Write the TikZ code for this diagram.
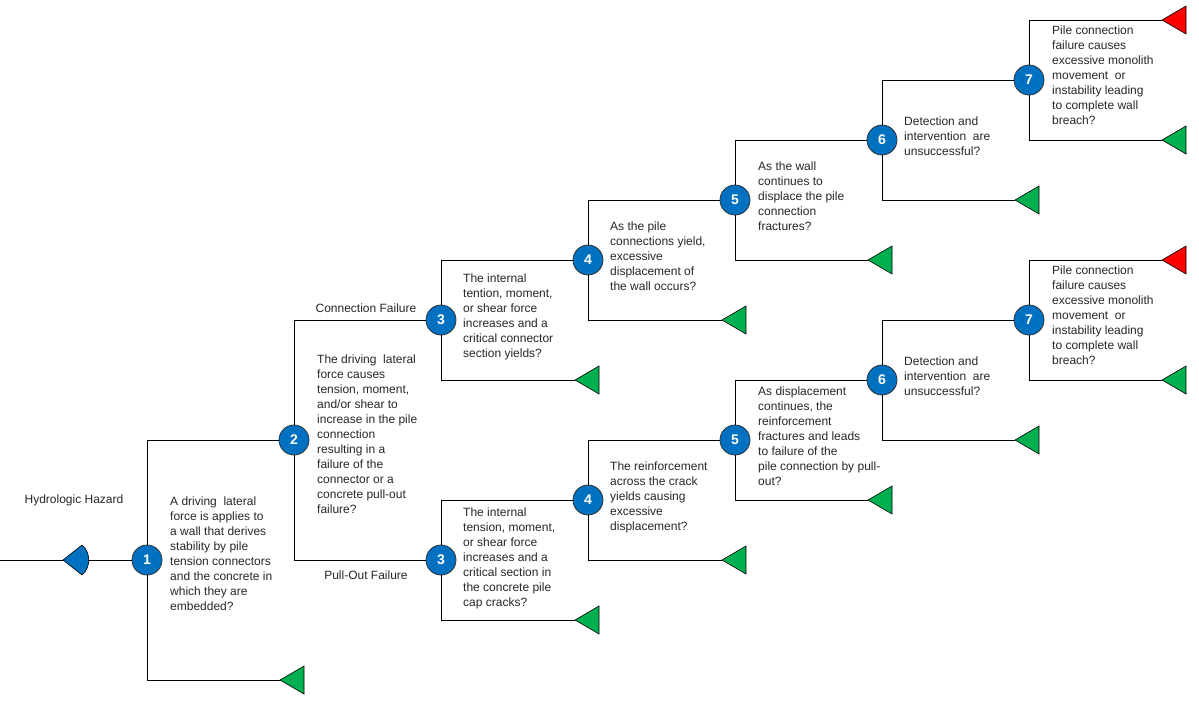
\documentclass[tikz,border=0pt]{standalone}
\usepackage{fontspec}
\setmainfont{Liberation Sans}
\definecolor{cblue}{HTML}{0070C0}
\definecolor{cgreen}{HTML}{00B050}
\definecolor{cred}{HTML}{FF0000}
\begin{document}
\begin{tikzpicture}[x=1pt,y=-1pt,
  ev/.style={circle,fill=cblue,draw=black!80,line width=0.8pt,minimum size=30pt,inner sep=0pt,text=white,font=\fontsize{14}{14}\selectfont\bfseries},
  txt/.style={anchor=north west,align=left,inner sep=0pt,font=\fontsize{12}{15}\selectfont,text=black!85},
  br/.style={line width=0.9pt},
  lab/.style={font=\fontsize{12}{15}\selectfont,text=black!85}]
\useasboundingbox (0,0) rectangle (1199,702);
\newcommand{\tri}[3]{\draw[fill=#3,line width=0.6pt] (#1,#2) -- (#1+24,#2-14) -- (#1+24,#2+14) -- cycle;}
% initiator
\coordinate (start) at (0,560);
\node[ev] (n1) at (147,560) {1};
\draw[br] (start) -- (n1);
\draw[fill=cblue,line width=0.6pt] (63,560) -- (82,545) .. controls (91,552) and (91,568) .. (82,575) -- cycle;
\node[lab] (hz) at (74,500) {Hydrologic Hazard};
\node[txt] at (170,497) {A driving\ \ lateral\\force is applies to\\a wall that derives\\stability by pile\\tension connectors\\and the concrete in\\which they are\\embedded?};
% node 2
\node[ev] (n2) at (294,440) {2};
\coordinate (e1) at (280,680);
\draw[br] (n1) |- (n2);
\draw[br] (n1) |- (e1);
\tri{280}{680}{cgreen}
\node[txt] at (317,355) {The driving\ \ lateral\\force causes\\tension, moment,\\and/or shear to\\increase in the pile\\connection\\resulting in a\\failure of the\\connector or a\\concrete pull-out\\failure?};
% node 3 pair
\node[ev] (n3a) at (441,320) {3};
\node[ev] (n3b) at (441,560) {3};
\draw[br] (n2) |- (n3a);
\draw[br] (n2) |- (n3b);
\node[lab] at (366,308) {Connection Failure};
\node[lab] at (366,575) {Pull-Out Failure};
% upper chain
\node[ev] (n4a) at (588,260) {4};
\node[ev] (n5a) at (735,200) {5};
\node[ev] (n6a) at (882,140) {6};
\node[ev] (n7a) at (1029,80) {7};
\coordinate (e3a) at (575,380);
\coordinate (e4a) at (722,320);
\coordinate (e5a) at (868,260);
\coordinate (e6a) at (1015,200);
\coordinate (e7at) at (1162,20);
\coordinate (e7ab) at (1162,140);
\draw[br] (n3a) |- (n4a); \draw[br] (n3a) |- (e3a); \tri{575}{380}{cgreen}
\draw[br] (n4a) |- (n5a); \draw[br] (n4a) |- (e4a); \tri{722}{320}{cgreen}
\draw[br] (n5a) |- (n6a); \draw[br] (n5a) |- (e5a); \tri{868}{260}{cgreen}
\draw[br] (n6a) |- (n7a); \draw[br] (n6a) |- (e6a); \tri{1015}{200}{cgreen}
\draw[br] (n7a) |- (e7at); \draw[br] (n7a) |- (e7ab); \tri{1162}{20}{cred}\tri{1162}{140}{cgreen}
\node[txt] at (463,274) {The internal\\tention, moment,\\or shear force\\increases and a\\critical connector\\section yields?};
\node[txt] at (610,222) {As the pile\\connections yield,\\excessive\\displacement of\\the wall occurs?};
\node[txt] at (758,162) {As the wall\\continues to\\displace the pile\\connection\\fractures?};
\node[txt] at (904,117) {Detection and\\intervention\ \ are\\unsuccessful?};
\node[txt] at (1052,26) {Pile connection\\failure\ causes\\excessive\ monolith\\movement\ \ or\\instability leading\\to complete wall\\breach?};
% lower chain
\node[ev] (n4b) at (588,500) {4};
\node[ev] (n5b) at (735,440) {5};
\node[ev] (n6b) at (882,380) {6};
\node[ev] (n7b) at (1029,320) {7};
\coordinate (e3b) at (575,620);
\coordinate (e4b) at (722,560);
\coordinate (e5b) at (868,500);
\coordinate (e6b) at (1015,440);
\coordinate (e7bt) at (1162,260);
\coordinate (e7bb) at (1162,380);
\draw[br] (n3b) |- (n4b); \draw[br] (n3b) |- (e3b); \tri{575}{620}{cgreen}
\draw[br] (n4b) |- (n5b); \draw[br] (n4b) |- (e4b); \tri{722}{560}{cgreen}
\draw[br] (n5b) |- (n6b); \draw[br] (n5b) |- (e5b); \tri{868}{500}{cgreen}
\draw[br] (n6b) |- (n7b); \draw[br] (n6b) |- (e6b); \tri{1015}{440}{cgreen}
\draw[br] (n7b) |- (e7bt); \draw[br] (n7b) |- (e7bb); \tri{1162}{260}{cred}\tri{1162}{380}{cgreen}
\node[txt] at (463,508) {The internal\\tension, moment,\\or shear force\\increases and a\\critical section in\\the concrete pile\\cap cracks?};
\node[txt] at (610,462) {The reinforcement\\across the crack\\yields causing\\excessive\\displacement?};
\node[txt] at (758,387) {As displacement\\continues, the\\reinforcement\\fractures and leads\\to failure of the\\pile connection by pull-\\out?};
\node[txt] at (904,357) {Detection and\\intervention\ \ are\\unsuccessful?};
\node[txt] at (1052,266) {Pile connection\\failure\ causes\\excessive\ monolith\\movement\ \ or\\instability leading\\to complete wall\\breach?};
\end{tikzpicture}
\end{document}
